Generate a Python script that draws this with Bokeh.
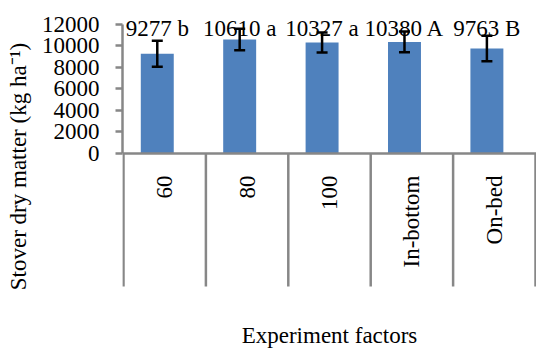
import numpy as np
from bokeh.plotting import figure
from bokeh.models import ColumnDataSource, Range1d, FixedTicker, Whisker, Span, TeeHead
from bokeh.core.properties import value
from bokeh.embed import file_html
from bokeh.resources import INLINE

categories = ["60", "80", "100", "In-bottom", "On-bed"]
values = [9277, 10610, 10327, 10380, 9763]
errors = [1200, 1000, 930, 960, 1180]
letters = ["b", "a", "a", "A", "B"]
y_ticks = [0, 2000, 4000, 6000, 8000, 10000, 12000]

FONT = "Liberation Serif"
GRAY = "#878787"
BLUE = "#4F81BD"

n = len(categories)
centers = np.arange(n) + 0.5
bar_x = centers - 0.09
labels = [f"{v} {l}" for v, l in zip(values, letters)]

src = ColumnDataSource(dict(
    x=bar_x, cx=centers, top=values,
    lower=[v - e for v, e in zip(values, errors)],
    upper=[v + e for v, e in zip(values, errors)],
    lab=labels, cat=categories,
))

p = figure(width=536, height=350, output_backend="svg", toolbar_location=None,
           x_range=Range1d(-0.012, 5.012), y_range=Range1d(-15721, 13302),
           min_border_left=122, min_border_right=0, min_border_top=10, min_border_bottom=28)
p.outline_line_color = None
p.xgrid.visible = False
p.ygrid.visible = False
p.background_fill_color = "white"
p.border_fill_color = "white"

# bars
p.vbar(x="x", top="top", width=0.40, bottom=0, source=src,
       fill_color=BLUE, line_color=None)

# error bars
w = Whisker(base="x", lower="lower", upper="upper", source=src,
            line_color="black", line_width=2.5, level="overlay",
            upper_head=TeeHead(size=11, line_width=2.5, line_color="black"),
            lower_head=TeeHead(size=11, line_width=2.5, line_color="black"))
p.add_layout(w)

# value labels
p.text(x="x", y=11600, text="lab", source=src, text_align="center",
       text_baseline="alphabetic", text_font=value(FONT), text_font_size="23px",
       text_color="black")

# baseline and separators
p.add_layout(Span(location=0, dimension="width", line_color=GRAY, line_width=2.5))
bounds = np.arange(n + 1)
p.segment(x0=bounds, y0=[0] * (n + 1), x1=bounds, y1=[-12372] * (n + 1),
          line_color=GRAY, line_width=2.5)

# category labels (rotated)
p.text(x="cx", y=-2047, text="cat", source=src, angle=np.pi / 2,
       text_align="right", text_baseline="middle", text_font=value(FONT),
       text_font_size="23px", text_color="black")

# y axis
ya = p.yaxis[0]
ya.bounds = (0, 12000)
ya.ticker = FixedTicker(ticks=y_ticks)
ya.axis_line_color = GRAY
ya.axis_line_width = 2.5
ya.major_tick_line_color = GRAY
ya.major_tick_line_width = 2.5
ya.major_tick_out = 7
ya.major_tick_in = 0
ya.minor_tick_line_color = None
ya.major_label_standoff = 16
ya.major_label_text_font = FONT
ya.major_label_text_font_size = "23px"
ya.major_label_text_color = "black"
ya.axis_label = "Stover dry matter (kg ha\u207b\u00b9)"
ya.axis_label_text_font = FONT
ya.axis_label_text_font_size = "23px"
ya.axis_label_text_font_style = "normal"
ya.axis_label_text_color = "black"
ya.axis_label_standoff = 8

# x axis (label only)
xa = p.xaxis[0]
xa.ticker = FixedTicker(ticks=[])
xa.axis_line_color = None
xa.major_tick_line_color = None
xa.minor_tick_line_color = None
xa.major_label_standoff = 0
xa.major_tick_out = 0
xa.axis_label = "Experiment factors"
xa.axis_label_text_font = FONT
xa.axis_label_text_font_size = "23px"
xa.axis_label_text_font_style = "normal"
xa.axis_label_text_color = "black"
xa.axis_label_standoff = 0

open("out.html", "w").write(file_html(p, INLINE))
